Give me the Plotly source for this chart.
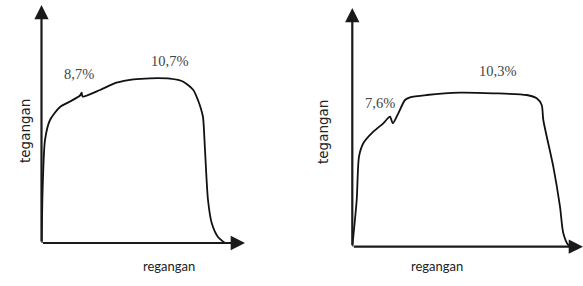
import plotly.graph_objects as go

# Left specimen: strain (regangan) vs stress (tegangan), arbitrary units
strain_a = [0.2, 1.2, 3.5, 8.5, 18.5, 28.5, 38.5, 40.2, 41.0, 58.5, 75.0, 92.0, 108.5, 128.5, 141.8, 151.8, 156.8, 159.5, 161.5, 163.5, 166.5, 170.2, 176.5, 183.5]
stress_a = [0.0, 56.0, 103.0, 123.0, 136.0, 141.5, 147.5, 150.3, 146.5, 153.0, 160.3, 163.7, 164.7, 164.3, 161.3, 153.0, 142.0, 134.0, 126.0, 93.0, 43.0, 20.0, 6.0, 0.0]
labels_a = ["8,7%", "10,7%"]
label_a_x = [37.0, 127.5]
label_a_y = [169.5, 182.0]

# Right specimen
strain_b = [0.0, 4.4, 6.7, 11.0, 21.0, 31.0, 37.7, 40.5, 46.0, 52.7, 57.7, 74.4, 107.7, 141.0, 174.4, 184.4, 189.4, 191.0, 201.0, 207.7, 211.0, 216.0, 221.0]
stress_b = [0.0, 46.7, 90.0, 103.4, 115.0, 123.4, 130.0, 123.4, 133.4, 146.7, 149.4, 151.7, 154.0, 153.4, 151.7, 148.4, 141.7, 126.7, 80.0, 40.0, 13.4, 1.7, 0.0]
labels_b = ["7,6%", "10,3%"]
label_b_x = [27.7, 144.7]
label_b_y = [144.2, 176.2]

x_title = "regangan"
y_title = "tegangan"

fig = go.Figure()
fig.add_trace(go.Scatter(x=strain_a, y=stress_a, mode="lines", xaxis="x", yaxis="y",
                         line=dict(color="#111111", width=1.8, shape="spline", smoothing=0.7),
                         hoverinfo="skip", showlegend=False))
fig.add_trace(go.Scatter(x=strain_b, y=stress_b, mode="lines", xaxis="x2", yaxis="y2",
                         line=dict(color="#111111", width=1.8, shape="spline", smoothing=0.7),
                         hoverinfo="skip", showlegend=False))

W, H = 583, 286
axis_common = dict(visible=False, fixedrange=True)
fig.update_layout(
    width=W, height=H, autosize=False,
    margin=dict(l=0, r=0, t=0, b=0),
    paper_bgcolor="white", plot_bgcolor="rgba(0,0,0,0)",
    xaxis=dict(domain=[41.5 / W, 245 / W], range=[0, 203.5], **axis_common),
    yaxis=dict(domain=[(H - 243) / H, (H - 5) / H], range=[0, 238], **axis_common),
    xaxis2=dict(domain=[352.3 / W, 1.0], range=[0, 230.7], anchor="y2", **axis_common),
    yaxis2=dict(domain=[(H - 246.7) / H, (H - 8) / H], range=[0, 238.7], anchor="x2", **axis_common),
)

ann = []
# axis arrows
for xr, yr, xmax, ymax in [("x", "y", 203.5, 238), ("x2", "y2", 230.7, 238.7)]:
    ann.append(dict(x=xmax, y=0, ax=0, ay=0, xref=xr, yref=yr, axref=xr, ayref=yr,
                    showarrow=True, arrowhead=2, arrowsize=1.3, arrowwidth=2.2,
                    arrowcolor="#1a1a1a", text=""))
    ann.append(dict(x=0, y=ymax, ax=0, ay=0, xref=xr, yref=yr, axref=xr, ayref=yr,
                    showarrow=True, arrowhead=2, arrowsize=1.3, arrowwidth=2.2,
                    arrowcolor="#1a1a1a", text=""))

# percent labels
for xr, yr, txts, xs, ys in [("x", "y", labels_a, label_a_x, label_a_y),
                             ("x2", "y2", labels_b, label_b_x, label_b_y)]:
    for t, lx, ly in zip(txts, xs, ys):
        ann.append(dict(x=lx, y=ly, xref=xr, yref=yr, text=t, showarrow=False,
                        font=dict(family="Liberation Serif, Times New Roman, serif", size=14.5, color="#444444")))

# axis titles
for px_, py_ in [(141, 276), (465, 276)]:
    ann.append(dict(x=px_ / W, y=(H - py_) / H, xref="paper", yref="paper", text=x_title,
                    showarrow=False, font=dict(family="Lato", size=13, color="#222222")))
for px_, py_ in [(15, 131), (323, 132)]:
    ann.append(dict(x=px_ / W, y=(H - py_) / H, xref="paper", yref="paper", text=y_title,
                    textangle=-90, showarrow=False,
                    font=dict(family="DejaVu Sans", size=13.5, color="#222222")))

fig.update_layout(annotations=ann)
fig.write_html("out.html", config={"displayModeBar": False},
               post_script="document.body.style.margin='0px';document.body.style.overflow='hidden';")
